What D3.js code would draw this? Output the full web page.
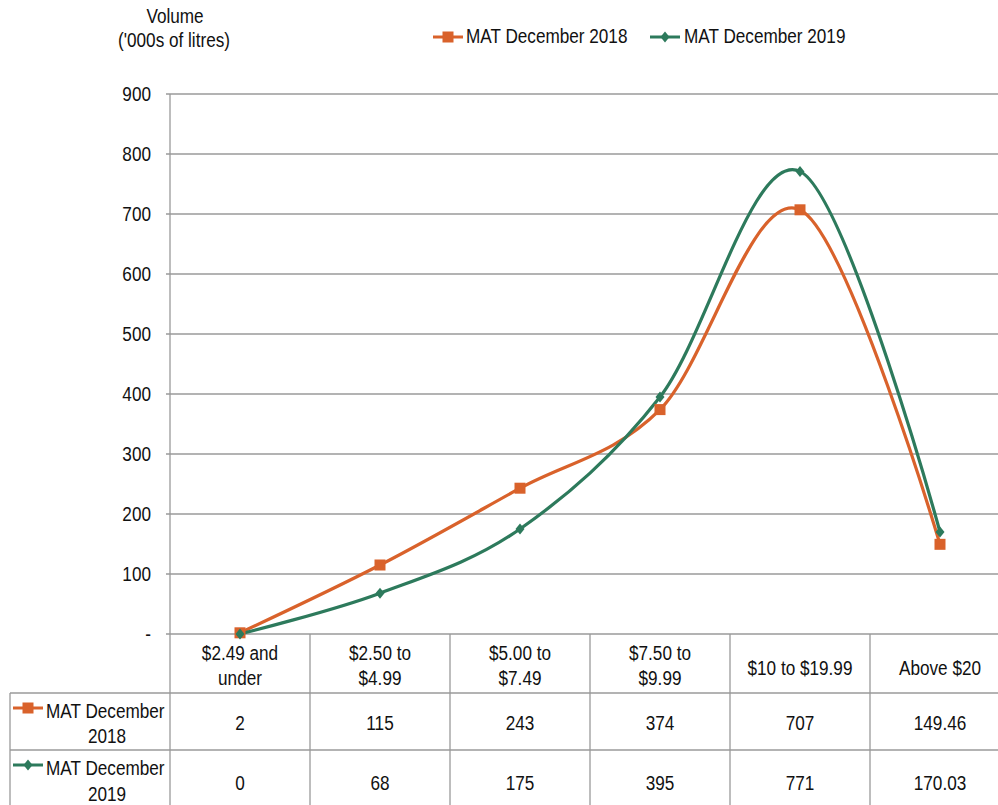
<!DOCTYPE html>
<html><head><meta charset="utf-8">
<script src="https://cdn.jsdelivr.net/npm/d3@7"></script>
<style>body{margin:0;background:#fff}svg{display:block;font-family:"Liberation Sans",Arial,sans-serif}</style>
</head><body><svg id="c" width="998" height="805"></svg>
<script>
const categories = [["$2.49 and","under"],["$2.50 to","$4.99"],["$5.00 to","$7.49"],["$7.50 to","$9.99"],["$10 to $19.99"],["Above $20"]];
const series2018 = [2,115,243,374,707,149.46];
const series2019 = [0,68,175,395,771,170.03];
const labels2018 = ["2","115","243","374","707","149.46"];
const labels2019 = ["0","68","175","395","771","170.03"];
const seriesNames = [["MAT December","2018"],["MAT December","2019"]];
const legendNames = ["MAT December 2018","MAT December 2019"];
const yTicks = [0,100,200,300,400,500,600,700,800,900];
const colors = ["#d9622b","#2d7a5c"];

(function(){
const svg = d3.select("#c");
const pl=170, pr=1010, pt=94, pb=634;
const x = d3.scaleBand().domain(d3.range(categories.length)).range([pl,pr]);
const y = d3.scaleLinear().domain([0,900]).range([pb,pt]);
const grid="#9a9a9a", fs=19.5, sx=0.88;

function txt(px,py,s,anchor){
  return svg.append("text").attr("transform",`translate(${px},${py}) scale(${sx},1)`)
    .attr("text-anchor",anchor||"start").attr("font-size",fs).attr("fill","#111").text(s);
}

svg.append("g").selectAll("line").data(yTicks).join("line")
 .attr("x1",166).attr("x2",pr).attr("y1",d=>y(d)).attr("y2",d=>y(d))
 .attr("stroke",grid).attr("stroke-width",1.3);
svg.append("line").attr("x1",pl).attr("x2",pl).attr("y1",pt).attr("y2",805).attr("stroke",grid).attr("stroke-width",1.3);
yTicks.forEach(d=>txt(151,y(d)+7,d===0?"-":String(d),"end"));

txt(175,23,"Volume","middle");
txt(174,47,"('000s of litres)","middle");

[693,750].forEach(v=>svg.append("line").attr("x1",10).attr("x2",pr).attr("y1",v).attr("y2",v).attr("stroke",grid).attr("stroke-width",1.3));
svg.append("line").attr("x1",10).attr("x2",10).attr("y1",693).attr("y2",805).attr("stroke",grid).attr("stroke-width",1.3);
d3.range(categories.length).forEach(i=>{
  svg.append("line").attr("x1",x(i)+x.bandwidth()).attr("x2",x(i)+x.bandwidth()).attr("y1",634).attr("y2",805).attr("stroke",grid).attr("stroke-width",1.3);
  const c=categories[i], cx=x(i)+x.bandwidth()/2;
  if(c.length===2){ txt(cx,660,c[0],"middle"); txt(cx,685,c[1],"middle"); }
  else txt(cx,675,c[0],"middle");
  txt(cx,730,labels2018[i],"middle");
  txt(cx,790,labels2019[i],"middle");
});

function marker(g,k,cx,cy,size){
  if(k===0) g.append("rect").attr("x",cx-size/2).attr("y",cy-size/2).attr("width",size).attr("height",size).attr("fill",colors[0]);
  else g.append("path").attr("d",`M${cx},${cy-size/2}L${cx+size/2-1},${cy}L${cx},${cy+size/2}L${cx-size/2+1},${cy}Z`).attr("fill",colors[1]);
}
function legendItem(k,x0,cy){
  svg.append("line").attr("x1",x0).attr("x2",x0+30).attr("y1",cy).attr("y2",cy).attr("stroke",colors[k]).attr("stroke-width",3);
  marker(svg,k,x0+15,cy,11);
}
[[0,718,743],[1,775,801]].forEach(([k,y1,y2])=>{
  legendItem(k,13,y1-10);
  txt(46,y1,seriesNames[k][0]);
  txt(107,y2,seriesNames[k][1],"middle");
});

legendItem(0,433,37);
txt(466,43,legendNames[0]);
legendItem(1,650,37);
txt(684,43,legendNames[1]);

const line=d3.line().x((d,i)=>x(i)+x.bandwidth()/2).y(d=>y(d)).curve(d3.curveCardinal.tension(0));
[series2018,series2019].forEach((s,k)=>{
  svg.append("path").attr("d",line(s)).attr("fill","none").attr("stroke",colors[k]).attr("stroke-width",3.2);
});
[series2018,series2019].forEach((s,k)=>{
  const g=svg.append("g");
  s.forEach((v,i)=>marker(g,k,x(i)+x.bandwidth()/2,y(v),11));
});
})();
</script></body></html>
